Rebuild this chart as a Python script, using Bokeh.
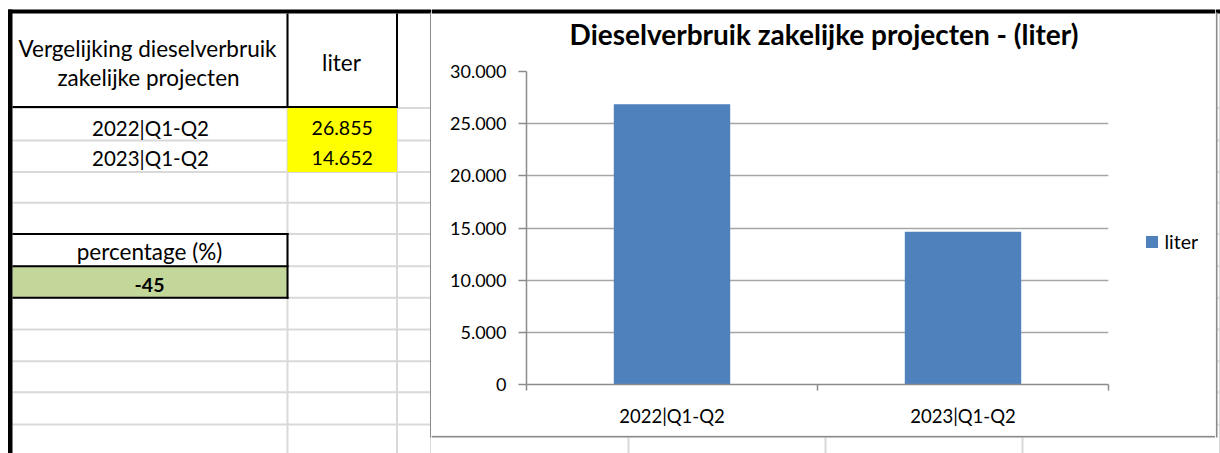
from bokeh.plotting import figure
from bokeh.models import Range1d, FixedTicker, Legend, LegendItem
from bokeh.layouts import row, column
from bokeh.core.properties import value
from bokeh.embed import file_html
from bokeh.resources import INLINE

# ---------------- data ----------------
table_title = ["Vergelijking dieselverbruik", "zakelijke projecten"]
unit_header = "liter"
periods = ["2022|Q1-Q2", "2023|Q1-Q2"]
liters = [26855, 14652]
pct_header = "percentage (%)"
pct_value = -45
chart_title = "Dieselverbruik zakelijke projecten - (liter)"
series_name = "liter"
y_ticks = [0, 5000, 10000, 15000, 20000, 25000, 30000]


def nl(v):
    return f"{v:,}".replace(",", ".")


# ---------------- style ----------------
FONT = "Lato"
BAR = "#4F81BD"
AXIS = "#8c8c8c"
GRID = "#a6a6a6"
CELL = "#d9d9d9"
FRAME = "#8a8a8a"
BLACK = "#000000"
TXT_SHIFT = -6

# page split (pixels): left sheet | chart column | right sliver
X_SPLIT, X_LEG, X_RIGHT, X_END = 431, 1130, 1215, 1220
Y_TOP, Y_BOT, Y_END = 58, 435, 453


def sheet(x0, x1, y0, y1):
    f = figure(width=x1 - x0, height=y1 - y0, output_backend="svg",
               toolbar_location=None, title=None,
               x_range=Range1d(x0, x1), y_range=Range1d(y1, y0),
               x_axis_location=None, y_axis_location=None,
               min_border=0, background_fill_color="white",
               border_fill_color="white", outline_line_color=None,
               frame_align=False)
    f.grid.visible = False
    return f


def rect(f, l, t, r, b, color):
    f.quad(left=[l], right=[r], top=[t], bottom=[b],
           fill_color=color, line_color=None)


def txt(f, x, y, s, size="22.5px", bold=False, shift=TXT_SHIFT):
    f.text(x=[x], y=[y + shift], text=[s], text_font=value(FONT),
           text_font_size=value(size),
           text_font_style="bold" if bold else "normal",
           text_align="center", text_baseline="alphabetic",
           text_color="#000000")


rows = [107.5, 140, 171.5, 202.3, 233.5, 265.7, 297.3, 329, 360.7, 391.7, 424]
cols = [287, 396.5, 430.5, 628, 825, 1022, 1219.5]

# ---------------- left: spreadsheet table ----------------
left = sheet(0, X_SPLIT, 0, Y_END)
for y in rows:
    rect(left, 12, y - 1, X_SPLIT, y + 1, CELL)
for x in cols[:2]:
    rect(left, x - 1, 13, x + 1, Y_END, CELL)
rect(left, 429.5, 437, 431, Y_END, CELL)

rect(left, 287, 107.5, 396.5, 171.5, "#FFFF00")
rect(left, 12, 265.7, 287, 297.3, "#C4D79B")

rect(left, 12, 105.6, 397.5, 107.6, BLACK)
rect(left, 286, 13, 288, 107.6, BLACK)
rect(left, 395.5, 13, 397.5, 107.6, BLACK)
rect(left, 12, 232.5, 288, 234.5, BLACK)
rect(left, 12, 264.7, 288, 266.7, BLACK)
rect(left, 12, 296.3, 288, 298.3, BLACK)
rect(left, 286, 232.5, 288, 298.3, BLACK)
rect(left, 7.5, 9, X_SPLIT, 13, BLACK)
rect(left, 7.5, 9, 12, Y_END, BLACK)
# left edge of the chart box
rect(left, 429.5, 12, 431, 437, FRAME)

txt(left, 147, 54, table_title[0])
txt(left, 148, 83.3, table_title[1])
txt(left, 341, 68.3, unit_header)
for i, (per, val) in enumerate(zip(periods, liters)):
    base = 133.3 + i * 30.5
    txt(left, 150, base, per, size="20.5px")
    txt(left, 341.7, base, nl(val), size="19.5px")
txt(left, 149, 256.5, pct_header)
txt(left, 149, 290, str(pct_value), size="19.5px", bold=True)

# ---------------- top strip with chart title ----------------
top = sheet(X_SPLIT, X_RIGHT, 0, Y_TOP)
rect(top, X_SPLIT, 9, X_RIGHT, 13, BLACK)
txt(top, 823.5, 42.7, chart_title, size="28px", bold=True, shift=-9)

# ---------------- bottom strip ----------------
bottom = sheet(X_SPLIT, X_RIGHT, Y_BOT, Y_END)
for x in cols[3:6]:
    rect(bottom, x - 1, 437, x + 1, Y_END, CELL)
rect(bottom, X_SPLIT, 435.3, X_RIGHT, 437, FRAME)

# ---------------- right sliver ----------------
right = sheet(X_RIGHT, X_END, 0, Y_END)
for y in rows:
    rect(right, 1217, y - 1, X_END, y + 1, CELL)
rect(right, 1218.5, 13, X_END, Y_END, CELL)
rect(right, X_RIGHT, 9, X_END, 13, BLACK)
rect(right, 1215.3, 12, 1217, 437, FRAME)

# ---------------- chart ----------------
chart = figure(width=X_LEG - X_SPLIT, height=Y_BOT - Y_TOP,
               output_backend="svg", toolbar_location=None, title=None,
               x_range=Range1d(0, len(periods)), y_range=Range1d(0, 30000),
               min_border_left=526 - X_SPLIT, min_border_right=X_LEG - 1108,
               min_border_top=71 - Y_TOP, min_border_bottom=Y_BOT - 384,
               background_fill_color="white", border_fill_color="white",
               outline_line_color=None, frame_align=False)

xs = [i + 0.5 for i in range(len(periods))]
bars = chart.vbar(x=xs, top=liters, width=0.4, bottom=0,
                  fill_color=BAR, line_color=None)

xa = chart.xaxis[0]
xa.ticker = FixedTicker(ticks=xs, minor_ticks=list(range(len(periods) + 1)))
xa.major_label_overrides = {x: per for x, per in zip(xs, periods)}
xa.major_tick_out = 0
xa.major_tick_in = 0
xa.minor_tick_out = 6
xa.minor_tick_in = 0
xa.minor_tick_line_color = AXIS
xa.minor_tick_line_width = 1.5
xa.axis_line_color = AXIS
xa.axis_line_width = 1.5
xa.major_label_standoff = 14
xa.major_label_text_font = FONT
xa.major_label_text_font_size = "18.5px"
xa.major_label_text_color = "#000000"

ya = chart.yaxis[0]
ya.ticker = FixedTicker(ticks=y_ticks)
ya.major_label_overrides = {v: nl(v) for v in y_ticks}
ya.major_tick_out = 8
ya.major_tick_in = 0
ya.minor_tick_line_color = None
ya.major_tick_line_color = AXIS
ya.major_tick_line_width = 1.5
ya.axis_line_color = AXIS
ya.axis_line_width = 1.5
ya.major_label_standoff = 12
ya.major_label_text_font = FONT
ya.major_label_text_font_size = "18px"
ya.major_label_text_color = "#000000"

chart.xgrid.visible = False
chart.ygrid.ticker = FixedTicker(ticks=y_ticks)
chart.ygrid.grid_line_color = GRID
chart.ygrid.grid_line_width = 1.5

# ---------------- legend panel (right of the plot area) ----------------
legfig = sheet(X_LEG, X_RIGHT, Y_TOP, Y_BOT)
# zero-size proxy bar that only provides the legend swatch style
swatch = legfig.vbar(x=[X_LEG], top=[Y_BOT], bottom=[Y_BOT], width=0,
                     fill_color=BAR, line_color=None)
legend = Legend(items=[LegendItem(label=series_name, renderers=[swatch])],
                location=(13.5, Y_BOT - 253.2), orientation="vertical",
                glyph_width=15, glyph_height=15, label_height=15,
                label_standoff=6, padding=0, margin=0, spacing=0,
                border_line_color=None, background_fill_alpha=0,
                label_text_font=FONT, label_text_font_size="19.5px",
                label_text_color="#000000")
legfig.add_layout(legend, "center")

page = row(left, column(top, row(chart, legfig), bottom), right)

open("out.html", "w").write(file_html(page, INLINE))
